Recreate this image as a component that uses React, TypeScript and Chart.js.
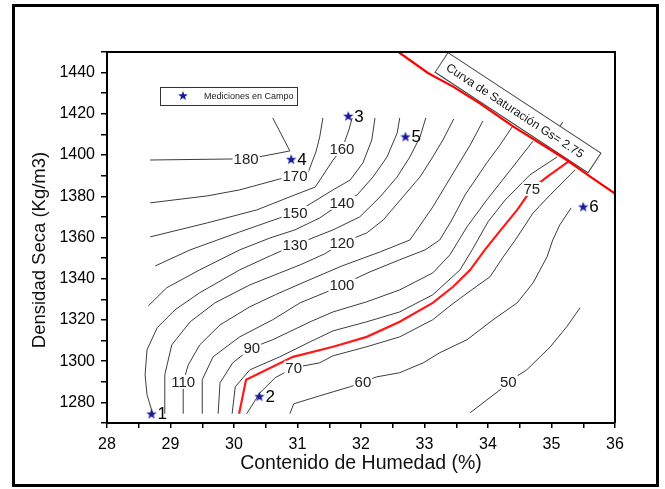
import React, { useEffect, useRef } from 'react';
import { Chart, registerables } from 'chart.js';

Chart.register(...registerables);

const FONT = '"Liberation Sans", Arial, sans-serif';

// Axis settings
const xMin = 28;
const xMax = 36;
const yMin = 1270;
const yMax = 1450;
const xTitle = 'Contenido de Humedad (%)';
const yTitle = 'Densidad Seca (Kg/m3)';

// Field measurements
const pointNames = ['1', '2', '3', '4', '5', '6'];
const pointX = [28.7, 30.4, 31.8, 30.9, 32.7, 35.5];
const pointY = [1274.5, 1283, 1419, 1398, 1409, 1375];
const legendText = 'Mediciones en Campo';

// Saturation curve
const satX = [32.59, 33.06, 33.45, 33.87, 34.4, 34.82, 35.24, 35.61, 36.0];
const satY = [1450, 1439.7, 1433.2, 1425.1, 1413.8, 1405.7, 1397.6, 1389.5, 1381.3];
const satText = 'Curva de Saturación Gs= 2.75';
const satTextX = 33.37;
const satTextY = 1449.7;

// Contour lines
const c180X = [28.68, 29.98, 30.39, 30.88, 30.61];
const c180Y = [1397.6, 1398.1, 1399.1, 1402.0, 1418.0];
const c170X = [28.68, 29.58, 30.09, 30.72, 30.96, 31.17, 31.29, 31.35, 31.4];
const c170Y = [1376.8, 1380.2, 1383.1, 1388.4, 1389.9, 1391.8, 1401.5, 1408.8, 1418.0];
const c160X = [28.68, 29.58, 30.36, 30.96, 31.28, 31.56, 31.7, 31.81, 31.86];
const c160Y = [1360.3, 1367.1, 1373.4, 1380.7, 1384.5, 1397.6, 1403.0, 1412.2, 1418.0];
const c150X = [28.76, 29.31, 30.09, 30.72, 30.96, 31.2, 31.56, 31.83, 32.03, 32.17, 32.22];
const c150Y = [1346.2, 1354.0, 1362.7, 1369.5, 1371.9, 1376.3, 1383.1, 1387.9, 1396.2, 1407.3, 1418.0];
const c140X = [28.65, 28.94, 29.46, 30.09, 30.57, 30.96, 31.35, 31.7, 31.94, 32.19, 32.41, 32.57, 32.61];
const c140Y = [1326.8, 1335.6, 1344.3, 1354.0, 1359.8, 1363.7, 1369.5, 1376.8, 1380.7, 1389.4, 1399.1, 1410.7, 1418.0];
const c130X = [28.72, 28.63, 28.6, 28.63, 28.79, 29.07, 29.46, 30.09, 30.57, 30.96, 31.56, 31.98, 32.3, 32.57, 32.77, 32.93, 33.02];
const c130Y = [1274.5, 1283.7, 1293.4, 1305.5, 1316.2, 1324.9, 1333.2, 1344.3, 1351.1, 1356.4, 1363.7, 1370.0, 1379.7, 1389.4, 1399.1, 1408.8, 1418.0];
const c120X = [28.91, 28.91, 29.02, 29.31, 29.7, 30.25, 30.72, 31.04, 31.43, 31.7, 32.09, 32.35, 32.66, 32.93, 33.13, 33.29, 33.46];
const c120Y = [1274.5, 1293.4, 1307.9, 1319.1, 1328.3, 1337.0, 1342.8, 1346.7, 1352.1, 1357.4, 1362.2, 1368.5, 1379.7, 1389.4, 1399.1, 1407.3, 1417.5];
const c110X = [29.2, 29.2, 29.28, 29.46, 29.78, 30.25, 30.65, 31.04, 31.7, 32.3, 32.77, 33.13, 33.51, 33.72, 33.92];
const c110Y = [1274.5, 1290.0, 1298.2, 1307.9, 1317.6, 1326.4, 1332.2, 1337.5, 1346.2, 1353.0, 1358.8, 1374.8, 1394.2, 1404.9, 1416.5];
const c100X = [29.5, 29.5, 29.67, 30.09, 30.61, 31.04, 31.46, 31.7, 32.14, 32.61, 33.01, 33.24, 33.43, 33.64, 33.98, 34.19, 34.39];
const c100Y = [1274.5, 1291.0, 1302.1, 1311.8, 1320.1, 1328.3, 1333.6, 1337.0, 1343.3, 1349.2, 1354.0, 1358.8, 1368.5, 1380.7, 1396.2, 1404.9, 1414.1];
const c90X = [29.75, 29.78, 29.98, 30.28, 30.61, 31.2, 31.56, 32.09, 32.61, 33.13, 33.4, 33.67, 33.98, 34.39, 34.71];
const c90Y = [1274.5, 1289.5, 1299.2, 1306.5, 1310.4, 1319.1, 1323.9, 1328.8, 1334.6, 1342.8, 1351.6, 1365.2, 1378.2, 1394.2, 1406.8];
const c80X = [29.97, 30.02, 30.25, 30.72, 31.2, 31.56, 32.09, 32.61, 33.13, 33.56, 33.75, 34.0, 34.27, 34.66, 35.09];
const c80Y = [1274.5, 1287.6, 1295.8, 1302.1, 1309.4, 1314.7, 1319.1, 1323.9, 1332.2, 1344.3, 1354.0, 1367.6, 1378.2, 1390.4, 1399.1];
const c75X = [30.08, 30.19, 30.93, 31.56, 32.09, 32.61, 33.13, 33.45, 33.72, 33.95, 34.19, 34.46, 34.69, 34.93, 35.26];
const c75Y = [1274.5, 1291.0, 1302.1, 1307.0, 1311.8, 1319.1, 1328.3, 1336.1, 1344.3, 1354.0, 1363.2, 1373.4, 1383.6, 1389.4, 1396.7];
const c70X = [30.2, 30.41, 30.65, 30.94, 31.35, 31.56, 32.09, 32.61, 33.13, 33.4, 33.72, 34.03, 34.24, 34.43, 34.71, 34.98, 35.37];
const c70Y = [1274.5, 1284.7, 1292.0, 1296.8, 1299.2, 1302.6, 1307.0, 1311.8, 1320.1, 1326.8, 1334.1, 1340.9, 1350.6, 1358.8, 1371.9, 1380.7, 1392.8];
const c60X = [30.88, 30.94, 31.35, 31.83, 32.03, 32.25, 32.61, 32.98, 33.24, 33.67, 34.08, 34.46, 34.71, 34.93, 35.02, 35.13, 35.31];
const c60Y = [1274.5, 1279.3, 1283.2, 1287.6, 1290.0, 1292.4, 1294.4, 1299.2, 1304.1, 1310.4, 1320.1, 1328.3, 1338.0, 1350.6, 1358.8, 1366.1, 1374.4];
const c50X = [33.72, 34.19, 34.32, 34.61, 34.98, 35.24, 35.45];
const c50Y = [1275.0, 1286.1, 1290.0, 1295.8, 1306.9, 1316.7, 1325.9];

const contourLevels = [180, 170, 160, 150, 140, 130, 120, 110, 100, 90, 80, 75, 70, 60, 50];
const contourXs = [c180X, c170X, c160X, c150X, c140X, c130X, c120X, c110X, c100X, c90X, c80X, c75X, c70X, c60X, c50X];
const contourYs = [c180Y, c170Y, c160Y, c150Y, c140Y, c130Y, c120Y, c110Y, c100Y, c90Y, c80Y, c75Y, c70Y, c60Y, c50Y];

// Contour labels
const labelText = ['180', '170', '160', '150', '140', '130', '120', '110', '100', '90', '75', '70', '60', '50'];
const labelX = [30.19, 30.96, 31.7, 30.96, 31.7, 30.96, 31.7, 29.2, 31.7, 30.28, 34.69, 30.94, 32.03, 34.32];
const labelY = [1398.1, 1389.9, 1403.0, 1371.9, 1376.8, 1356.4, 1357.4, 1290.0, 1337.0, 1306.5, 1383.6, 1296.8, 1290.0, 1290.0];

function starPath(ctx: CanvasRenderingContext2D, cx: number, cy: number, R: number, r: number) {
  ctx.beginPath();
  for (let i = 0; i < 10; i++) {
    const a = -Math.PI / 2 + (i * Math.PI) / 5;
    const rad = i % 2 ? r : R;
    ctx.lineTo(cx + rad * Math.cos(a), cy + rad * Math.sin(a));
  }
  ctx.closePath();
}

const STAR_COLOR = '#1a1a9c';

export default function App() {
  const ref = useRef<HTMLCanvasElement | null>(null);

  useEffect(() => {
    const canvas = ref.current;
    if (!canvas) return;

    const starImg = document.createElement('canvas');
    starImg.width = 12;
    starImg.height = 12;
    const sctx = starImg.getContext('2d')!;
    sctx.fillStyle = STAR_COLOR;
    starPath(sctx, 6, 6.5, 5.5, 2.3);
    sctx.fill();

    const overlay = {
      id: 'overlay',
      afterDatasetDraw(chart: any, args: any) {
        const ctx = chart.ctx as CanvasRenderingContext2D;
        const xs = chart.scales.x;
        const ys = chart.scales.y;
        if (args.index === 2) {
          // saturation annotation box (under the saturation curve)
          const bx = xs.getPixelForValue(satTextX);
          const by = ys.getPixelForValue(satTextY);
          ctx.save();
          ctx.translate(bx, by);
          ctx.rotate((33.3 * Math.PI) / 180);
          ctx.fillStyle = '#fff';
          ctx.fillRect(0, 0, 183, 23.5);
          ctx.strokeStyle = '#444';
          ctx.lineWidth = 1;
          ctx.strokeRect(0, 0, 183, 23.5);
          ctx.beginPath();
          ctx.moveTo(134, 0);
          ctx.lineTo(134, -5);
          ctx.stroke();
          let fs = 13;
          ctx.font = `${fs}px ${FONT}`;
          while (ctx.measureText(satText).width > 164 && fs > 8) {
            fs -= 0.5;
            ctx.font = `${fs}px ${FONT}`;
          }
          ctx.fillStyle = '#111';
          ctx.textAlign = 'left';
          ctx.textBaseline = 'middle';
          ctx.fillText(satText, 7, 12.3);
          ctx.restore();
        }
        if (args.index !== 1) return;
        ctx.save();
        ctx.font = `15px ${FONT}`;
        ctx.textAlign = 'center';
        ctx.textBaseline = 'middle';
        labelText.forEach((t, i) => {
          const px = xs.getPixelForValue(labelX[i]);
          const py = ys.getPixelForValue(labelY[i]);
          const w = ctx.measureText(t).width;
          ctx.fillStyle = '#ffffff';
          ctx.fillRect(px - w / 2 - 1, py - 7, w + 2, 14);
          ctx.fillStyle = '#222222';
          ctx.fillText(t, px, py + 1);
        });
        ctx.restore();
      },
      afterDatasetsDraw(chart: any) {
        const ctx = chart.ctx as CanvasRenderingContext2D;
        const xs = chart.scales.x;
        const ys = chart.scales.y;
        const a = chart.chartArea;
        ctx.save();
        // top and right frame
        ctx.strokeStyle = '#000';
        ctx.lineWidth = 2;
        ctx.beginPath();
        ctx.moveTo(a.left, a.top);
        ctx.lineTo(a.right, a.top);
        ctx.lineTo(a.right, a.bottom);
        ctx.stroke();

        // point labels
        ctx.font = `17px ${FONT}`;
        ctx.fillStyle = '#000';
        ctx.textAlign = 'left';
        ctx.textBaseline = 'middle';
        pointNames.forEach((n, i) => {
          const px = xs.getPixelForValue(pointX[i]);
          const py = ys.getPixelForValue(pointY[i]);
          ctx.fillText(n, px + 6, py + 1);
        });

        // legend box
        const lx = a.left + 53;
        const ly = a.top + 35;
        ctx.fillStyle = '#fff';
        ctx.fillRect(lx, ly, 137, 18);
        ctx.strokeStyle = '#333';
        ctx.lineWidth = 1;
        ctx.strokeRect(lx + 0.5, ly + 0.5, 137, 18);
        ctx.fillStyle = STAR_COLOR;
        starPath(ctx, lx + 23, ly + 9, 5, 2.1);
        ctx.fill();
        ctx.font = `9px ${FONT}`;
        ctx.fillStyle = '#222';
        ctx.textAlign = 'left';
        ctx.textBaseline = 'middle';
        ctx.fillText(legendText, lx + 44, ly + 10);

        // y axis title
        ctx.save();
        ctx.translate(40, 250);
        ctx.rotate(-Math.PI / 2);
        ctx.font = `18.5px ${FONT}`;
        ctx.fillStyle = '#111';
        ctx.textAlign = 'center';
        ctx.textBaseline = 'middle';
        ctx.fillText(yTitle, 0, 0);
        ctx.restore();
        ctx.restore();
      },
    };

    const datasets: any[] = [
      {
        type: 'scatter',
        label: legendText,
        data: pointX.map((x, i) => ({ x, y: pointY[i] })),
        pointStyle: starImg,
        pointRadius: 6,
        showLine: false,
      },
      {
        label: 'Saturación',
        data: satX.map((x, i) => ({ x, y: satY[i] })),
        borderColor: '#ff0000',
        borderWidth: 2.2,
        pointRadius: 0,
        tension: 0,
      },
      ...contourLevels.map((lv, k) => ({
        label: String(lv),
        data: contourXs[k].map((x, i) => ({ x, y: contourYs[k][i] })),
        borderColor: lv === 75 ? '#ff1a1a' : '#3c3c3c',
        borderWidth: lv === 75 ? 2.2 : 1,
        pointRadius: 0,
        tension: 0,
      })),
    ];

    const chart = new Chart(canvas, {
      type: 'line',
      data: { datasets },
      options: {
        animation: false,
        responsive: false,
        devicePixelRatio: 1,
        layout: { padding: { left: 27, top: 52, right: 50, bottom: 4 } },
        plugins: { legend: { display: false }, tooltip: { enabled: false } },
        scales: {
          x: {
            type: 'linear',
            min: xMin,
            max: xMax,
            afterFit: (s: any) => {
              s.height = 62;
            },
            ticks: {
              stepSize: 0.5,
              autoSkip: false,
              maxRotation: 0,
              padding: 7,
              color: '#000',
              font: { family: FONT, size: 16 },
              callback: (v: any) => (Number.isInteger(v) ? String(v) : ''),
            },
            grid: { drawOnChartArea: false, drawTicks: true, tickLength: 5, color: '#000', lineWidth: 1.5 },
            border: { color: '#000', width: 2 },
            title: {
              display: true,
              text: xTitle,
              color: '#111',
              font: { family: FONT, size: 19.5 },
              padding: { top: 0, bottom: 10 },
            },
          },
          y: {
            type: 'linear',
            min: yMin,
            max: yMax,
            afterFit: (s: any) => {
              s.width = 80;
            },
            ticks: {
              stepSize: 10,
              autoSkip: false,
              padding: 6,
              color: '#000',
              font: { family: FONT, size: 16 },
              callback: (v: any) => (v % 20 === 0 ? String(v) : ''),
            },
            grid: { drawOnChartArea: false, drawTicks: true, tickLength: 6, color: '#000', lineWidth: 1.5 },
            border: { color: '#000', width: 2 },
            title: { display: false, text: yTitle },
          },
        },
      },
      plugins: [overlay],
    } as any);

    return () => chart.destroy();
  }, []);

  return (
    <div style={{ position: 'absolute', left: 0, top: 0, width: 665, height: 489, background: '#fff' }}>
      <div
        style={{
          position: 'absolute',
          left: 12,
          top: 4,
          width: 647,
          height: 483,
          border: '3px solid #000',
          boxSizing: 'border-box',
        }}
      />
      <canvas ref={ref} width={665} height={489} style={{ position: 'absolute', left: 0, top: 0, width: 665, height: 489 }} />
    </div>
  );
}
